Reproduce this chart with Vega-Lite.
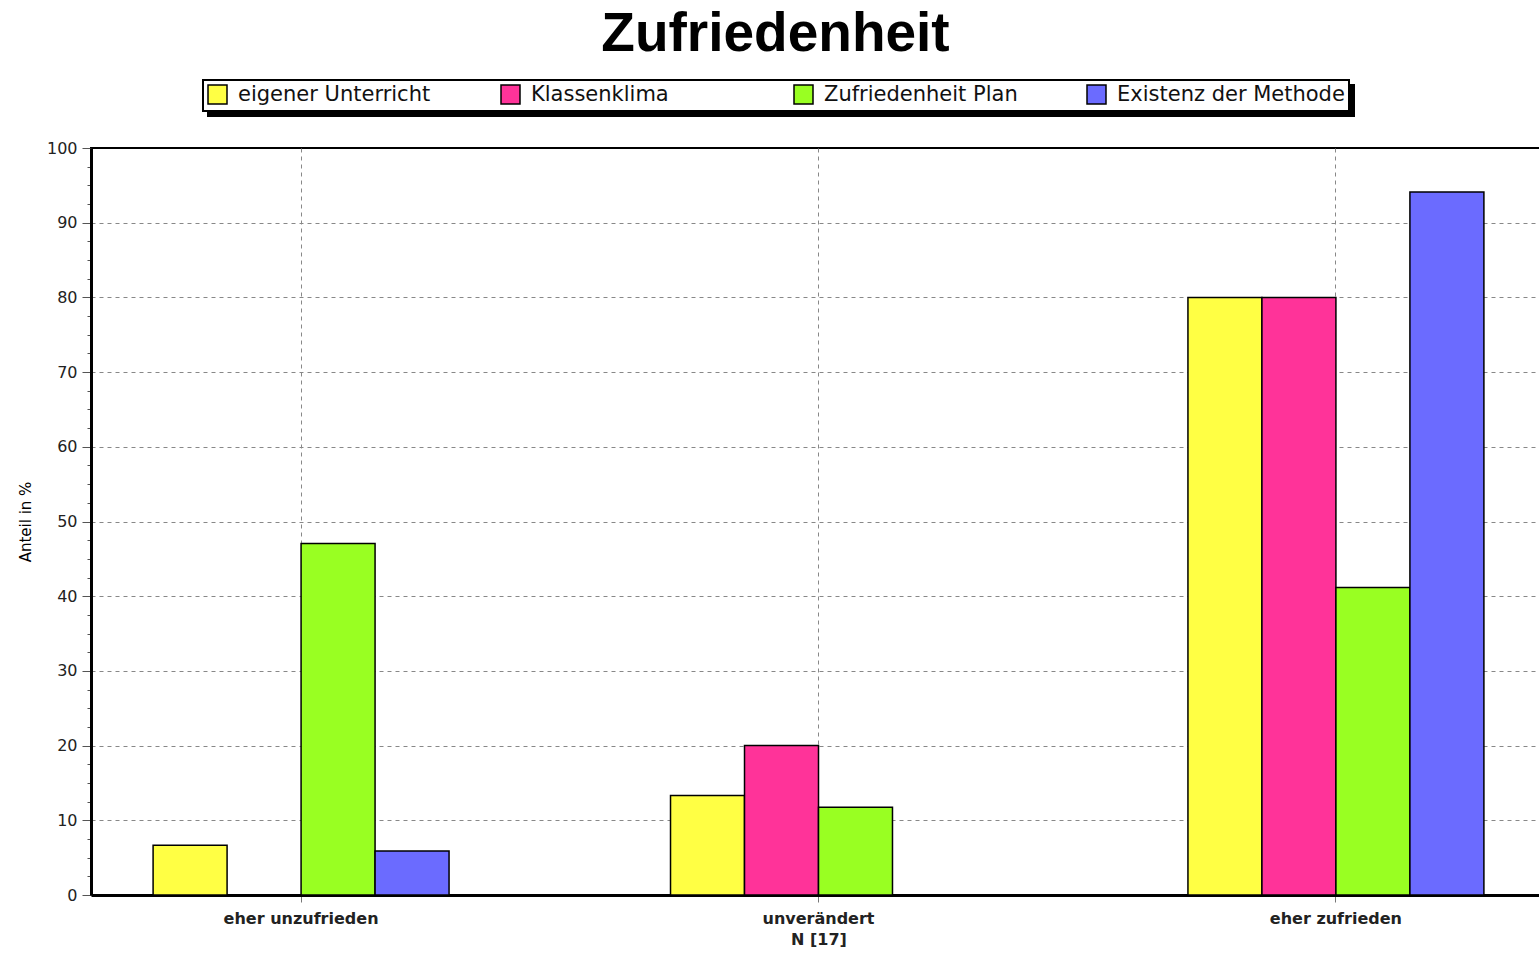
{
  "$schema": "https://vega.github.io/schema/vega-lite/v6.json",
  "autosize": "none",
  "padding": {"left": 91, "top": 148, "right": 0, "bottom": 58},
  "width": 1455,
  "height": 747,
  "background": "white",
  "title": {
    "text": "Zufriedenheit",
    "font": "Liberation Sans",
    "fontSize": 55,
    "fontWeight": "bold",
    "color": "black",
    "anchor": "middle",
    "frame": "group",
    "dx": -43,
    "offset": 16
  },
  "data": {
    "values": [
      {"kat": "eher unzufrieden", "serie": "eigener Unterricht", "wert": 6.67},
      {"kat": "eher unzufrieden", "serie": "Klassenklima", "wert": 0},
      {"kat": "eher unzufrieden", "serie": "Zufriedenheit Plan", "wert": 47.06},
      {"kat": "eher unzufrieden", "serie": "Existenz der Methode", "wert": 5.88},
      {"kat": "unverändert", "serie": "eigener Unterricht", "wert": 13.33},
      {"kat": "unverändert", "serie": "Klassenklima", "wert": 20},
      {"kat": "unverändert", "serie": "Zufriedenheit Plan", "wert": 11.76},
      {"kat": "unverändert", "serie": "Existenz der Methode", "wert": 0},
      {"kat": "eher zufrieden", "serie": "eigener Unterricht", "wert": 80},
      {"kat": "eher zufrieden", "serie": "Klassenklima", "wert": 80},
      {"kat": "eher zufrieden", "serie": "Zufriedenheit Plan", "wert": 41.18},
      {"kat": "eher zufrieden", "serie": "Existenz der Methode", "wert": 94.12}
    ]
  },
  "encoding": {
    "x": {
      "field": "kat",
      "type": "nominal",
      "sort": ["eher unzufrieden", "unverändert", "eher zufrieden"],
      "scale": {"paddingInner": 0.428, "paddingOuter": 0.12},
      "axis": {
        "title": "N [17]",
        "titleFont": "DejaVu Sans",
        "titleFontSize": 16,
        "titleFontWeight": "bold",
        "titleColor": "#222",
        "titlePadding": 5,
        "labelFont": "DejaVu Sans",
        "labelFontSize": 16,
        "labelFontWeight": "bold",
        "labelColor": "#222",
        "labelAngle": 0,
        "labelPadding": 8,
        "tickSize": 7,
        "tickColor": "#777",
        "domainColor": "black",
        "domainWidth": 3,
        "grid": true,
        "gridColor": "#888",
        "gridDash": [4, 4],
        "gridWidth": 1
      }
    },
    "xOffset": {
      "field": "serie",
      "type": "nominal",
      "sort": ["eigener Unterricht", "Klassenklima", "Zufriedenheit Plan", "Existenz der Methode"]
    },
    "y": {
      "field": "wert",
      "type": "quantitative",
      "scale": {"domain": [0, 100], "nice": false},
      "axis": {
        "title": "Anteil in %",
        "titleFont": "DejaVu Sans",
        "titleFontSize": 15,
        "titleFontWeight": "normal",
        "titleColor": "black",
        "titlePadding": 13,
        "values": [0, 2.5, 5, 7.5, 10, 12.5, 15, 17.5, 20, 22.5, 25, 27.5, 30, 32.5, 35, 37.5, 40, 42.5, 45, 47.5, 50, 52.5, 55, 57.5, 60, 62.5, 65, 67.5, 70, 72.5, 75, 77.5, 80, 82.5, 85, 87.5, 90, 92.5, 95, 97.5, 100],
        "labelExpr": "datum.value % 10 === 0 ? datum.label : ''",
        "labelFont": "DejaVu Sans",
        "labelFontSize": 16,
        "labelColor": "#222",
        "labelPadding": 5,
        "tickSize": {"condition": {"test": "datum.value % 10 === 0", "value": 9}, "value": 4},
        "tickColor": "#555",
        "domainColor": "black",
        "domainWidth": 3,
        "grid": true,
        "gridColor": "#888",
        "gridDash": [4, 4],
        "gridWidth": 1,
        "gridOpacity": {"condition": {"test": "datum.value % 10 === 0 && datum.value > 0 && datum.value < 100", "value": 1}, "value": 0}
      }
    }
  },
  "layer": [
    {
      "mark": {"type": "bar", "stroke": "black", "strokeWidth": 1.5},
      "encoding": {
        "color": {
          "field": "serie",
          "type": "nominal",
          "scale": {
            "domain": ["eigener Unterricht", "Klassenklima", "Zufriedenheit Plan", "Existenz der Methode"],
            "range": ["#FFFF44", "#FF3399", "#99FF22", "#6B6BFF"]
          },
          "legend": {
            "title": null,
            "orient": "none",
            "legendX": 112,
            "legendY": -68,
            "direction": "horizontal",
            "columns": 4,
            "gridAlign": "all",
            "symbolType": "square",
            "symbolSize": 361,
            "symbolStrokeColor": "black",
            "symbolStrokeWidth": 1.5,
            "symbolOpacity": 1,
            "labelFont": "DejaVu Sans",
            "labelFontSize": 21,
            "labelColor": "#111",
            "labelOffset": 10,
            "labelLimit": 400,
            "columnPadding": 32,
            "padding": 4,
            "strokeColor": "black",
            "fillColor": "white",
            "zindex": 2
          }
        }
      }
    },
    {
      "mark": {"type": "bar", "fill": "transparent", "strokeOpacity": 0, "fillOpacity": 0},
      "encoding": {
        "stroke": {
          "field": "serie",
          "type": "nominal",
          "sort": ["eigener Unterricht", "Klassenklima", "Zufriedenheit Plan", "Existenz der Methode"],
          "scale": {"range": ["black", "black", "black", "black"]},
          "legend": {
            "title": null,
            "orient": "none",
            "legendX": 117,
            "legendY": -63,
            "direction": "horizontal",
            "columns": 4,
            "gridAlign": "all",
            "symbolType": "square",
            "symbolSize": 361,
            "symbolStrokeWidth": 1.5,
            "labelExpr": "' '",
            "labelFont": "DejaVu Sans",
            "labelFontSize": 21,
            "labelColor": "black",
            "labelOffset": 10,
            "labelLimit": 400,
            "columnPadding": 336,
            "padding": 4,
            "strokeColor": "black",
            "fillColor": "black",
            "zindex": 1
          }
        }
      }
    }
  ],
  "config": {
    "view": {"stroke": "black", "strokeWidth": 2},
    "axis": {"zindex": 0},
    "legend": {"strokeWidth": 2}
  }
}
